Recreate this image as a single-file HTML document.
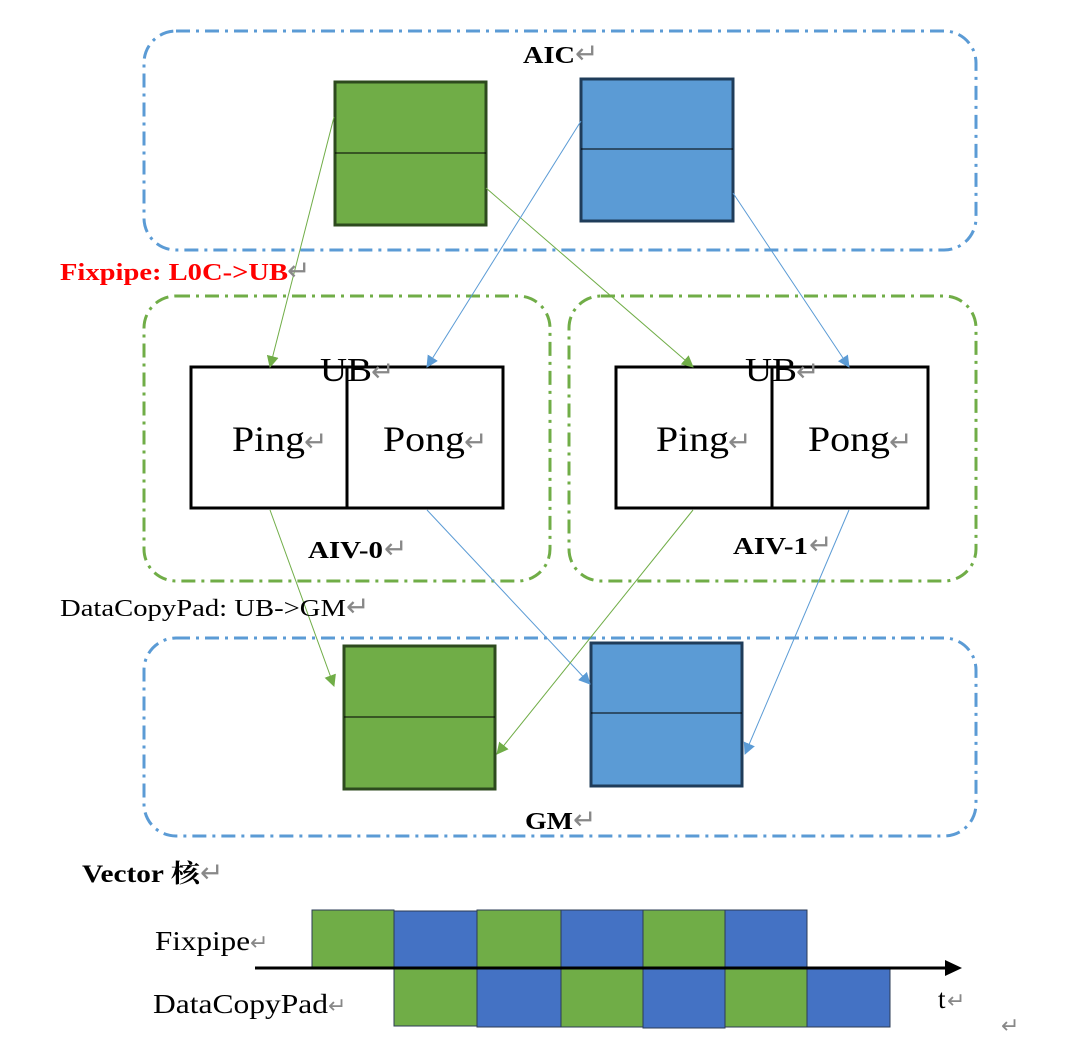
<!DOCTYPE html>
<html><head><meta charset="utf-8"><style>
html,body{margin:0;padding:0;background:#fff;}
svg{display:block;}
text{font-family:"Liberation Serif","Noto Serif CJK SC",serif;}
.r{fill:#888;font-size:28px;font-weight:normal;}
</style></head><body>
<svg width="1083" height="1057" viewBox="0 0 1083 1057" xmlns="http://www.w3.org/2000/svg">
<defs>
<marker id="ag" markerWidth="12" markerHeight="12" refX="11" refY="6" orient="auto" markerUnits="userSpaceOnUse"><path d="M0,0 L12,6 L0,12 z" fill="#70ad47"/></marker>
<marker id="ab" markerWidth="12" markerHeight="12" refX="11" refY="6" orient="auto" markerUnits="userSpaceOnUse"><path d="M0,0 L12,6 L0,12 z" fill="#5b9bd5"/></marker>
</defs>
<g fill="none" stroke-width="3" stroke-dasharray="14,6,3,6">
<rect x="144" y="31" width="832" height="219" rx="32" stroke="#5b9bd5"/>
<rect x="144" y="296" width="406" height="285" rx="32" stroke="#70ad47"/>
<rect x="569" y="296" width="407" height="285" rx="32" stroke="#70ad47"/>
<rect x="144" y="638" width="832" height="198" rx="32" stroke="#5b9bd5"/>
</g>
<g stroke-width="3">
<rect x="335" y="82" width="151" height="143" fill="#70ad47" stroke="#2d4a1e"/>
<rect x="581" y="79" width="152" height="142" fill="#5b9bd5" stroke="#1f3c5a"/>
<rect x="344" y="646" width="151" height="143" fill="#70ad47" stroke="#2d4a1e"/>
<rect x="591" y="643" width="151" height="143" fill="#5b9bd5" stroke="#1f3c5a"/>
<rect x="191" y="367" width="312" height="141" fill="none" stroke="#000"/>
<line x1="347" y1="367" x2="347" y2="508" stroke="#000"/>
<rect x="616" y="367" width="312" height="141" fill="none" stroke="#000"/>
<line x1="772" y1="367" x2="772" y2="508" stroke="#000"/>
</g>
<g stroke="#000" stroke-width="1">
<line x1="335" y1="153" x2="486" y2="153"/>
<line x1="581" y1="149" x2="733" y2="149"/>
<line x1="344" y1="717" x2="495" y2="717"/>
<line x1="591" y1="713" x2="742" y2="713"/>
</g>
<g stroke-width="1">
<line x1="334" y1="117" x2="270" y2="367" stroke="#70ad47" marker-end="url(#ag)"/>
<line x1="486" y1="188" x2="693" y2="367" stroke="#70ad47" marker-end="url(#ag)"/>
<line x1="581" y1="121" x2="427" y2="367" stroke="#5b9bd5" marker-end="url(#ab)"/>
<line x1="733" y1="193" x2="849" y2="367" stroke="#5b9bd5" marker-end="url(#ab)"/>
<line x1="270" y1="510" x2="334" y2="686" stroke="#70ad47" marker-end="url(#ag)"/>
<line x1="427" y1="510" x2="590" y2="684" stroke="#5b9bd5" marker-end="url(#ab)"/>
<line x1="693" y1="510" x2="497" y2="754" stroke="#70ad47" marker-end="url(#ag)"/>
<line x1="849" y1="510" x2="745" y2="754" stroke="#5b9bd5" marker-end="url(#ab)"/>
</g>
<g lengthAdjust="spacingAndGlyphs">
<text x="523" y="63" font-size="24" font-weight="bold" textLength="52" lengthAdjust="spacingAndGlyphs">AIC</text><text x="575" y="63" class="r">↵</text>
<text x="60" y="280" font-size="24" font-weight="bold" fill="#ff0000" textLength="228" lengthAdjust="spacingAndGlyphs">Fixpipe: L0C-&gt;UB</text><text x="287" y="280" class="r">↵</text>
<text x="320" y="381" font-size="34" textLength="52" lengthAdjust="spacingAndGlyphs">UB</text><text x="371" y="381" class="r">↵</text>
<text x="745" y="381" font-size="34" textLength="52" lengthAdjust="spacingAndGlyphs">UB</text><text x="796" y="381" class="r">↵</text>
<text x="232" y="451" font-size="36" textLength="73" lengthAdjust="spacingAndGlyphs">Ping</text><text x="304" y="451" class="r">↵</text>
<text x="383" y="451" font-size="36" textLength="82" lengthAdjust="spacingAndGlyphs">Pong</text><text x="464" y="451" class="r">↵</text>
<text x="656" y="451" font-size="36" textLength="73" lengthAdjust="spacingAndGlyphs">Ping</text><text x="728" y="451" class="r">↵</text>
<text x="808" y="451" font-size="36" textLength="82" lengthAdjust="spacingAndGlyphs">Pong</text><text x="889" y="451" class="r">↵</text>
<text x="308" y="558" font-size="24" font-weight="bold" textLength="75" lengthAdjust="spacingAndGlyphs">AIV-0</text><text x="384" y="558" class="r">↵</text>
<text x="733" y="554" font-size="24" font-weight="bold" textLength="75" lengthAdjust="spacingAndGlyphs">AIV-1</text><text x="809" y="554" class="r">↵</text>
<text x="60" y="616" font-size="24" textLength="286" lengthAdjust="spacingAndGlyphs">DataCopyPad: UB-&gt;GM</text><text x="346" y="616" class="r">↵</text>
<text x="525" y="829" font-size="24" font-weight="bold" textLength="48" lengthAdjust="spacingAndGlyphs">GM</text><text x="573" y="829" class="r">↵</text>
<text x="82" y="882" font-size="25" font-weight="bold" textLength="118" lengthAdjust="spacingAndGlyphs">Vector 核</text><text x="200" y="882" class="r">↵</text>
</g>
<g stroke="#2b3b55" stroke-width="1">
<rect x="312" y="910" width="82" height="58" fill="#70ad47"/>
<rect x="394" y="911" width="83" height="57" fill="#4472c4"/>
<rect x="477" y="910" width="84" height="58" fill="#70ad47"/>
<rect x="561" y="910" width="82" height="58" fill="#4472c4"/>
<rect x="643" y="910" width="82" height="58" fill="#70ad47"/>
<rect x="725" y="910" width="82" height="58" fill="#4472c4"/>
<rect x="394" y="968" width="83" height="58" fill="#70ad47"/>
<rect x="477" y="968" width="84" height="59" fill="#4472c4"/>
<rect x="561" y="968" width="82" height="59" fill="#70ad47"/>
<rect x="643" y="968" width="82" height="60" fill="#4472c4"/>
<rect x="725" y="968" width="82" height="59" fill="#70ad47"/>
<rect x="807" y="967" width="83" height="60" fill="#4472c4"/>
</g>
<line x1="255" y1="968" x2="948" y2="968" stroke="#000" stroke-width="3"/>
<path d="M945,960 L962,968 L945,976 z" fill="#000"/>
<text x="155" y="950" font-size="27" textLength="95" lengthAdjust="spacingAndGlyphs">Fixpipe</text><text x="250" y="950" class="r" style="font-size:22px">↵</text>
<text x="153" y="1013" font-size="27" textLength="175" lengthAdjust="spacingAndGlyphs">DataCopyPad</text><text x="328" y="1013" class="r" style="font-size:22px">↵</text>
<text x="938" y="1008" font-size="27">t</text><text x="947" y="1008" class="r" style="font-size:22px">↵</text>
<text x="1001" y="1033" class="r" style="font-size:22px">↵</text>
</svg>
</body></html>
